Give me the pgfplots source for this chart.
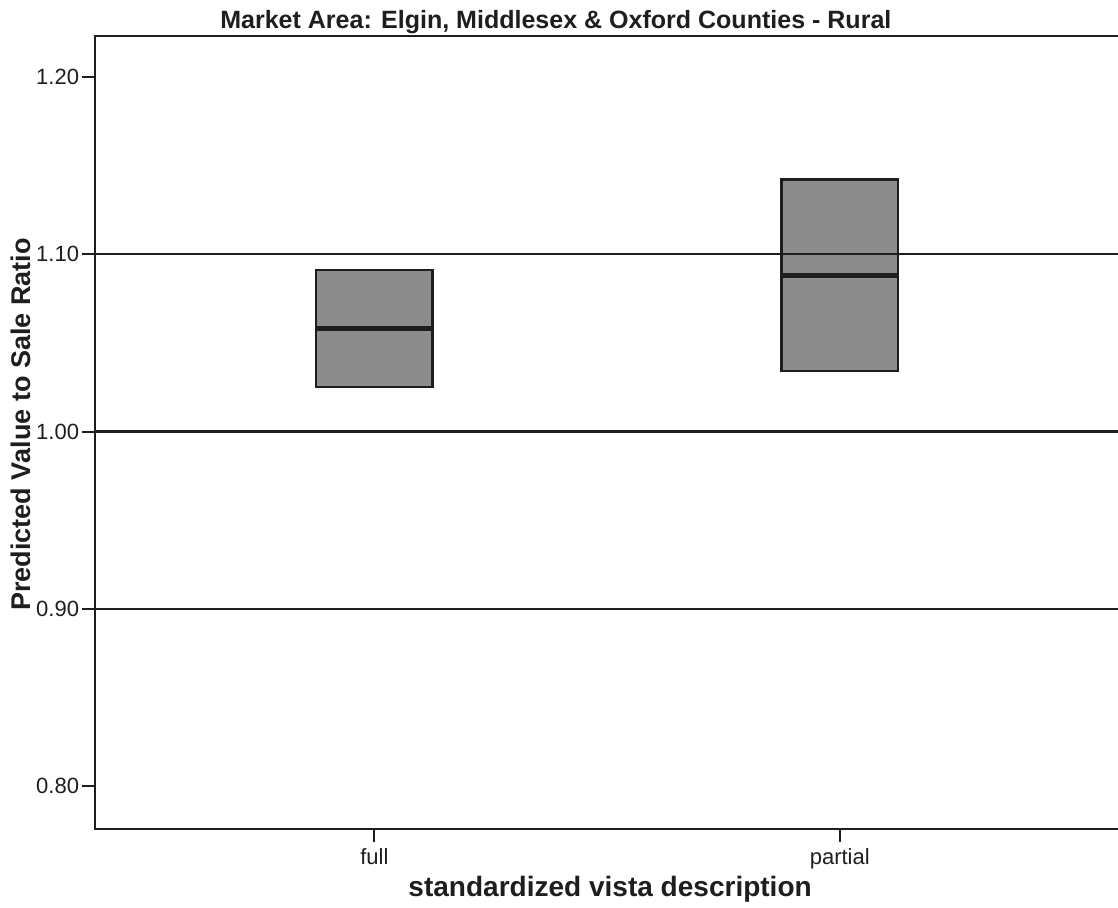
\documentclass[border=0pt]{standalone}
\usepackage{fontspec}
\setmainfont{Liberation Sans}
\usepackage{pgfplots}
\pgfplotsset{compat=1.18}
\usepgfplotslibrary{statistics}
\definecolor{boxgray}{RGB}{140,140,140}
\definecolor{inkblack}{RGB}{30,30,30}
\begin{document}
\begin{tikzpicture}
% page area: the plot frame runs off the right-hand side
\useasboundingbox (-47.5pt,-39.5pt) rectangle (511pt,414pt);
\begin{axis}[
  at={(0,0)}, anchor=south west,
  scale only axis, width=511.5pt, height=396pt,
  xmin=-0.6, xmax=1.6, ymin=0.776, ymax=1.223,
  axis on top,
  axis line style={line width=1pt, inkblack},
  xtick={0,1}, xticklabels={full,partial},
  ytick={0.8,0.9,1.0,1.1,1.2},
  extra y ticks={0.9,1.0,1.1},
  extra y tick labels={},
  extra y tick style={grid=major, major tick length=0pt},
  grid style={line width=1.1pt, inkblack},
  tick align=outside, xtick pos=bottom, ytick pos=left,
  major tick length=6.5pt,
  tick style={line width=1pt, inkblack},
  yticklabel style={xshift=2pt, /pgf/number format/.cd, fixed, fixed zerofill, precision=2, assume math mode=true},
  ticklabel style={font=\fontsize{11}{13}\selectfont, text=inkblack},
  title={Market Area: Elgin, Middlesex \& Oxford Counties - Rural},
  title style={font=\fontsize{12.5}{14}\bfseries, text=inkblack, at={(axis description cs:0.45,1)}, anchor=base, yshift=-2pt},
  xlabel={standardized vista description},
  xlabel style={font=\fontsize{14}{16}\bfseries, text=inkblack, at={(axis description cs:0.503,0)}, anchor=base, yshift=-34pt},
  ylabel={Predicted Value to Sale Ratio},
  ylabel style={font=\fontsize{13.5}{16}\bfseries, text=inkblack, at={(axis description cs:-0.0725,0.51)}, anchor=center},
  boxplot/draw direction=y,
  boxplot/box extend=0.25,
  boxplot/whisker extend=0,
]
% full
\addplot[fill=boxgray, draw=inkblack, line width=1.2pt,
  boxplot/every median/.style={line width=2.2pt, draw=inkblack},
  boxplot prepared={draw position=0,
    lower whisker=1.025, lower quartile=1.025,
    median=1.058,
    upper quartile=1.091, upper whisker=1.091}]
  coordinates {};
% partial
\addplot[fill=boxgray, draw=inkblack, line width=1.2pt,
  boxplot/every median/.style={line width=2.2pt, draw=inkblack},
  boxplot prepared={draw position=1,
    lower whisker=1.034, lower quartile=1.034,
    median=1.088,
    upper quartile=1.142, upper whisker=1.142}]
  coordinates {};
\end{axis}
\end{tikzpicture}
\end{document}
